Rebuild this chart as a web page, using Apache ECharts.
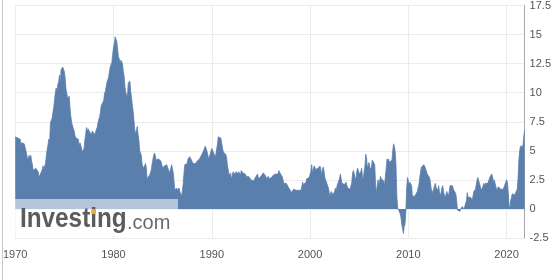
<!DOCTYPE html>
<html>
<head>
<meta charset="utf-8">
<script src="https://cdn.jsdelivr.net/npm/echarts@6/dist/echarts.min.js"></script>
<style>
html,body{margin:0;padding:0;background:#fff;}
#chart{width:554px;height:280px;}
</style>
</head>
<body>
<div id="chart"></div>
<script>
// US CPI year-over-year, monthly, Jan 1970 .. Nov 2021
const startYear = 1970;
const cpi1970s = [
6.2,6.2,6.1,6.1,6.0,6.0,6.0,5.4,5.7,5.7,5.6,5.6,
5.3,5.0,4.7,4.2,4.4,4.6,4.4,4.6,4.1,3.8,3.3,3.3,
3.3,3.5,3.5,3.5,3.2,2.7,2.9,2.9,3.2,3.4,3.7,3.4,
3.7,3.9,4.6,5.1,5.5,6.0,5.7,7.4,7.4,7.8,8.3,8.7,
9.4,10.0,10.4,10.1,10.7,10.9,11.5,10.9,12.0,12.1,12.2,12.3,
11.8,11.2,10.3,10.2,9.5,9.4,9.7,8.6,7.9,7.4,7.4,6.9,
6.7,6.3,6.1,6.1,6.2,6.0,5.4,5.7,5.5,5.5,4.9,4.9,
5.2,5.9,6.4,7.0,6.7,6.9,6.8,6.6,6.6,6.4,6.7,6.7,
6.8,6.4,6.6,6.5,7.0,7.4,7.7,7.9,8.3,8.9,8.9,9.0,
9.3,9.9,10.1,10.5,10.9,10.9,11.3,11.8,12.2,12.1,12.6,13.3
];
const cpi1980s = [
13.9,14.2,14.8,14.7,14.4,14.4,13.1,12.9,12.6,12.8,12.7,12.5,
11.8,11.4,10.5,10.0,9.8,9.6,10.8,10.8,11.0,10.1,9.6,8.9,
8.4,7.6,6.8,6.5,6.7,7.1,6.4,5.9,5.0,5.1,4.6,3.8,
3.7,3.5,3.6,3.9,3.6,2.6,2.5,2.6,2.9,2.9,3.3,3.8,
4.2,4.6,4.8,4.6,4.2,4.2,4.2,4.3,4.3,4.3,4.1,4.0,
3.5,3.5,3.7,3.7,3.8,3.8,3.6,3.4,3.1,3.2,3.5,3.8,
3.9,3.1,2.3,1.6,1.5,1.8,1.6,1.6,1.8,1.5,1.3,1.1,
1.5,2.1,3.0,3.8,3.9,3.7,3.9,4.3,4.4,4.5,4.5,4.4,
4.1,3.9,3.9,3.9,3.9,4.0,4.1,4.0,4.2,4.3,4.3,4.4,
4.7,4.8,5.0,5.1,5.4,5.2,5.0,4.7,4.3,4.5,4.7,4.7
];
const cpi1990s = [
5.2,5.3,5.2,4.7,4.4,4.7,4.8,5.6,6.2,6.3,6.3,6.1,
5.7,5.3,4.9,4.9,5.0,4.7,4.5,3.8,3.4,2.9,3.0,3.1,
2.6,2.8,3.2,3.2,3.0,3.1,3.2,3.2,3.0,3.2,3.1,2.9,
3.3,3.3,3.1,3.2,3.2,3.0,2.8,2.8,2.7,2.8,2.7,2.8,
2.5,2.5,2.5,2.4,2.3,2.5,2.8,2.9,3.0,2.6,2.7,2.7,
2.8,2.9,2.9,3.1,3.2,3.0,2.8,2.6,2.5,2.8,2.6,2.5,
2.7,2.7,2.8,2.9,2.9,2.8,3.0,2.9,3.0,3.0,3.3,3.3,
3.0,3.0,2.8,2.5,2.2,2.3,2.2,2.2,2.2,2.1,1.8,1.7,
1.6,1.4,1.4,1.4,1.7,1.7,1.7,1.6,1.5,1.5,1.6,1.6,
1.7,1.6,1.7,2.3,2.1,2.0,2.1,2.3,2.6,2.6,2.6,2.7
];
const cpi2000s = [
2.7,3.2,3.8,3.1,3.2,3.7,3.7,3.4,3.5,3.5,3.5,3.4,
3.7,3.5,2.9,3.3,3.6,3.3,2.7,2.7,2.7,2.1,1.9,1.6,
1.1,1.1,1.5,1.6,1.2,1.1,1.5,1.8,1.5,2.0,2.2,2.4,
2.6,3.0,3.0,2.2,2.1,2.1,2.1,2.2,2.3,2.0,1.8,1.9,
1.9,1.7,1.7,2.3,3.1,3.3,3.0,2.7,2.5,3.2,3.5,3.3,
3.0,3.0,3.2,3.5,2.8,2.5,3.2,3.6,4.7,4.4,3.5,3.4,
4.0,3.6,3.4,3.6,4.2,4.3,4.2,3.8,2.1,1.3,2.0,2.5,
2.1,2.4,2.8,2.6,2.7,2.7,2.4,2.0,2.8,3.5,4.3,4.1,
4.3,4.0,4.0,3.9,4.2,5.0,5.6,5.4,4.9,3.7,1.1,0.1,
0.0,0.2,-0.4,-0.7,-1.3,-1.4,-2.1,-1.5,-1.3,-0.2,1.8,2.7
];
const cpi2010s = [
2.6,2.1,2.3,2.2,2.0,1.1,1.2,1.2,1.1,1.2,1.1,1.5,
1.6,2.1,2.7,3.2,3.6,3.6,3.6,3.8,3.9,3.5,3.4,3.0,
2.9,2.9,2.7,2.3,1.7,1.7,1.4,1.7,2.0,2.2,1.8,1.7,
1.6,2.0,1.5,1.1,1.4,1.8,2.0,1.5,1.2,1.0,1.2,1.5,
1.6,1.1,1.5,2.0,2.1,2.1,2.0,1.7,1.7,1.7,1.3,0.8,
-0.1,0.0,-0.1,-0.2,0.0,0.1,0.2,0.2,0.0,0.2,0.5,0.7,
1.4,1.0,0.9,1.1,1.0,1.0,0.8,1.1,1.5,1.6,1.7,2.1,
2.5,2.7,2.4,2.2,1.9,1.6,1.7,1.9,2.2,2.0,2.2,2.1,
2.1,2.2,2.4,2.5,2.8,2.9,3.0,2.7,2.3,2.5,2.2,1.9,
1.6,1.5,1.9,2.0,1.8,1.7,1.8,1.8,1.7,1.8,2.1,2.3
];
const cpi2020s = [
2.5,2.3,1.5,0.3,0.1,0.7,1.0,1.3,1.4,1.2,1.2,1.4,
1.4,1.7,2.6,4.2,5.0,5.4,5.4,5.3,5.4,6.2,6.8
];
const xTicks = [1970, 1980, 1990, 2000, 2010, 2020];
const yTicks = [-2.5, 0, 2.5, 5, 7.5, 10, 12.5, 15, 17.5];

const allValues = [].concat(cpi1970s, cpi1980s, cpi1990s, cpi2000s, cpi2010s, cpi2020s);
const seriesData = allValues.map((v, i) => [startYear + i / 12, v]);
const xMax = seriesData[seriesData.length - 1][0];

const chart = echarts.init(document.getElementById('chart'), null, {renderer: 'canvas'});
const blue = '#5a7fad';
chart.setOption({
  animation: false,
  backgroundColor: '#ffffff',
  grid: {left: 11, right: 24, top: 3, bottom: 42, containLabel: false},
  xAxis: {
    type: 'value',
    min: xTicks[0],
    max: xMax,
    interval: 10,
    axisLine: {show: false},
    axisTick: {show: false},
    axisLabel: {
      color: '#555', fontSize: 11, fontFamily: 'Liberation Sans, Arial', margin: 11,
      showMaxLabel: false,
      formatter: v => (xTicks.indexOf(v) >= 0 ? String(v) : '')
    },
    splitLine: {show: true, lineStyle: {color: '#ebebeb', width: 1}}
  },
  yAxis: {
    type: 'value',
    position: 'right',
    min: yTicks[0],
    max: yTicks[yTicks.length - 1],
    interval: 2.5,
    axisLine: {show: true, lineStyle: {color: '#a8a8a8', width: 1}},
    axisTick: {show: false},
    axisLabel: {color: '#555', fontSize: 11, fontFamily: 'Liberation Sans, Arial', margin: 5},
    splitLine: {show: true, lineStyle: {color: '#ebebeb', width: 1}}
  },
  series: [{
    type: 'line',
    data: seriesData,
    symbol: 'none',
    lineStyle: {color: blue, width: 0.8},
    areaStyle: {color: blue, opacity: 1},
    silent: true
  }],
  graphic: [
    {type: 'line', shape: {x1: 2.5, y1: 0, x2: 2.5, y2: 280}, style: {stroke: '#c8c8c8', lineWidth: 1}, z: 100},
    {type: 'rect', shape: {x: 11, y: 199, width: 167, height: 38}, style: {fill: 'rgba(255,255,255,0.55)'}, z: 100},
    {type: 'text', x: 20, y: 220, scaleX: 0.9, style: {text: 'Investing', font: 'bold 27px "Liberation Sans", Arial', fill: '#5c5c5c', textVerticalAlign: 'middle'}, z: 101},
    {type: 'rect', shape: {x: 91.2, y: 209, width: 4.8, height: 5}, style: {fill: '#f5a53a'}, z: 102},
    {type: 'text', x: 127, y: 223, style: {text: '.com', font: '20px "Liberation Sans", Arial', fill: '#6a6a6a', textVerticalAlign: 'middle'}, z: 101}
  ]
});
</script>
</body>
</html>
